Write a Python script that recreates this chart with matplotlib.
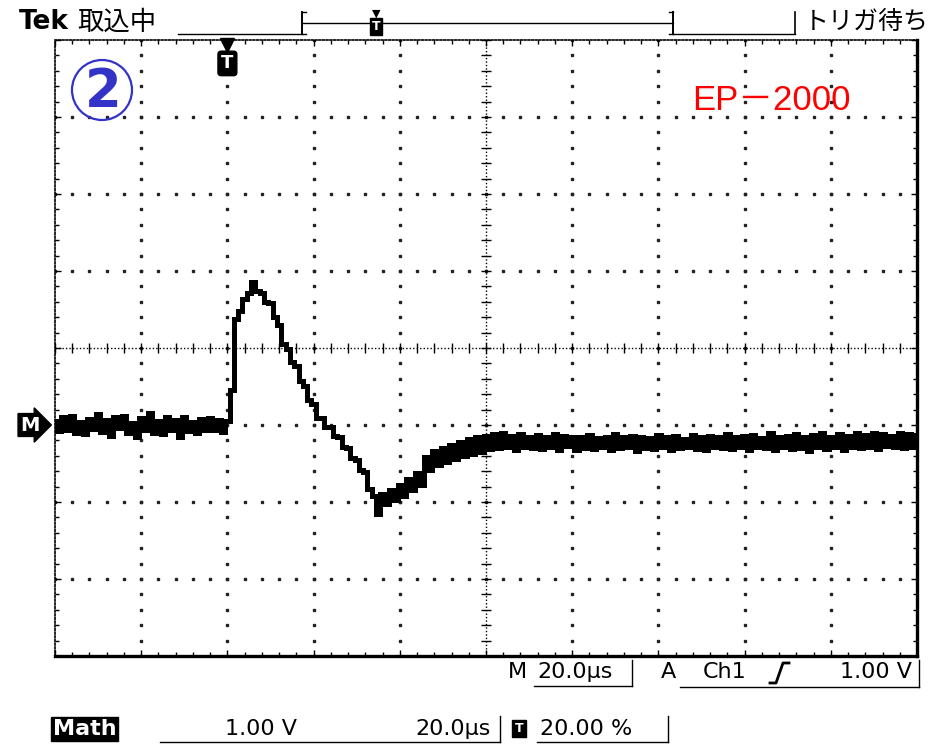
import matplotlib
matplotlib.use("Agg")
import matplotlib.pyplot as plt
import matplotlib.transforms as mtransforms
from matplotlib.lines import Line2D
from matplotlib.patches import Circle, Rectangle
import numpy as np

plt.rcParams['font.family'] = ['DejaVu Sans', 'Noto Sans CJK JP']

# scope settings
sec_per_div = 20.0      # us / div
volts_per_div = 1.00    # V / div
trigger_pct = 20.00     # trigger position in record, %
trigger_level = 1.00    # V
n_hdiv, n_vdiv = 10, 8
ground_div = 3          # ground marker, divisions above the bottom edge

# Ch1 samples, 1 us apart (V)
sample_step_us = 1.0
ch1_volts = [
    0.05, -0.08, 0.10, -0.06, 0.12, -0.10, 0.04, -0.12, 0.08, -0.05,
    0.14, -0.09, 0.06, -0.14, 0.10, -0.04, 0.12, -0.11, 0.03, -0.16,
    0.09, -0.07, 0.15, -0.10, 0.05, -0.12, 0.11, -0.06, 0.07, -0.15,
    0.10, -0.08, 0.04, -0.11, 0.08, -0.06, 0.09, -0.07, 0.06, -0.09,
    0.05, 0.45, 1.38, 1.48, 1.64, 1.72, 1.86, 1.74, 1.72, 1.60,
    1.58, 1.40, 1.30, 1.05, 0.99, 0.82, 0.76, 0.57, 0.51, 0.33,
    0.27, 0.09, 0.09, -0.03, -0.03, -0.14, -0.15, -0.28, -0.30, -0.43,
    -0.45, -0.59, -0.61, -0.83, -0.92, -1.15, -0.90, -1.02, -0.84, -0.98,
    -0.78, -0.92, -0.70, -0.84, -0.62, -0.78, -0.42, -0.58, -0.34, -0.52,
    -0.30, -0.48, -0.26, -0.44, -0.22, -0.40, -0.18, -0.38, -0.16, -0.35,
    -0.14, -0.31, -0.12, -0.30, -0.11, -0.29, -0.14, -0.32, -0.12, -0.28,
    -0.15, -0.30, -0.13, -0.31, -0.16, -0.29, -0.12, -0.33, -0.14, -0.27,
    -0.15, -0.32, -0.16, -0.30, -0.13, -0.31, -0.17, -0.29, -0.15, -0.33,
    -0.12, -0.30, -0.16, -0.28, -0.14, -0.34, -0.15, -0.30, -0.17, -0.31,
    -0.13, -0.29, -0.16, -0.32, -0.14, -0.30, -0.18, -0.28, -0.13, -0.31,
    -0.15, -0.33, -0.14, -0.29, -0.16, -0.30, -0.12, -0.31, -0.15, -0.28,
    -0.14, -0.32, -0.13, -0.29, -0.17, -0.30, -0.11, -0.33, -0.15, -0.28,
    -0.14, -0.31, -0.12, -0.30, -0.16, -0.34, -0.13, -0.29, -0.11, -0.31,
    -0.15, -0.28, -0.12, -0.32, -0.14, -0.29, -0.10, -0.30, -0.13, -0.28,
    -0.11, -0.31, -0.12, -0.27, -0.14, -0.29, -0.10, -0.30, -0.12, -0.28,
    -0.13,
]

W, H = 942, 744
def fx(x):
    return x / W
def fy(y):
    return 1 - y / H

fig = plt.figure(figsize=(W / 100, H / 100), dpi=100)
ax_l, ax_r, ax_t, ax_b = 55, 917, 40, 656
ax = fig.add_axes([fx(ax_l), fy(ax_b), fx(ax_r) - fx(ax_l), fy(ax_t) - fy(ax_b)])

t_max = n_hdiv * sec_per_div
v_min = -ground_div * volts_per_div
v_max = (n_vdiv - ground_div) * volts_per_div
ax.set_xlim(0, t_max)
ax.set_ylim(v_min, v_max)

# graticule
x_major = np.arange(0, t_max + 0.1, sec_per_div)
x_minor = np.arange(0, t_max + 0.1, sec_per_div / 5)
y_major = np.arange(v_min, v_max + 0.01, volts_per_div)
y_minor = np.arange(v_min, v_max + 0.01, volts_per_div / 5)
t_mid = t_max / 2
v_mid = (v_min + v_max) / 2

ax.set_xticks(x_major)
ax.set_xticks(x_minor, minor=True)
ax.set_yticks(y_major)
ax.set_yticks(y_minor, minor=True)
ax.tick_params(which='both', direction='in', top=True, right=True,
               labelbottom=False, labelleft=False, color='k', width=1)
ax.tick_params(which='major', length=4)
ax.tick_params(which='minor', length=3)

for side in ['left', 'top']:
    ax.spines[side].set_linestyle((0, (1, 1.2)))
    ax.spines[side].set_linewidth(1.2)
for side in ['right', 'bottom']:
    ax.spines[side].set_linewidth(2.4)

for v in y_major[1:-1]:
    if v != v_mid:
        ax.plot(x_minor, np.full_like(x_minor, v), ls='none', marker='s',
                ms=1.6, color='#222222', zorder=1)
for t in x_major[1:-1]:
    if t != t_mid:
        ax.plot(np.full_like(y_minor, t), y_minor, ls='none', marker='s',
                ms=1.6, color='#222222', zorder=1)

ax.axhline(v_mid, ls=(0, (1, 1.5)), lw=1, color='k', zorder=1)
ax.axvline(t_mid, ls=(0, (1, 1.5)), lw=1, color='k', zorder=1)
ax.plot(x_minor, np.full_like(x_minor, v_mid), ls='none', marker='|',
        ms=7, mew=1, color='k', zorder=1)
ax.plot(np.full_like(y_minor, t_mid), y_minor, ls='none', marker='_',
        ms=7, mew=1, color='k', zorder=1)

# waveform
t_us = np.arange(len(ch1_volts)) * sample_step_us
ax.plot(t_us, ch1_volts, drawstyle='steps-mid', color='k', lw=3.6,
        solid_joinstyle='miter', zorder=3)

# trigger position marker at top of graticule
t_trig = t_max * trigger_pct / 100
trans_xa = mtransforms.blended_transform_factory(ax.transData, ax.transAxes)
ax.plot([t_trig], [0.992], transform=trans_xa, marker='v', ms=10,
        color='k', clip_on=False, zorder=4)
ax.text(t_trig, 0.962, 'T', transform=trans_xa, ha='center', va='center',
        color='white', fontsize=13, fontweight='bold',
        bbox=dict(boxstyle='round,pad=0.18', fc='k', ec='k'))

# ground marker
trans_fy = mtransforms.blended_transform_factory(fig.transFigure, ax.transData)
fig.text(fx(20), 0.0, 'M', transform=trans_fy, ha='left', va='center',
         color='white', fontsize=14, fontweight='bold',
         bbox=dict(boxstyle='rarrow,pad=0.1', fc='k', ec='k'))

# circled number
fig.add_artist(Circle((102 / 100, (H - 90) / 100), 0.30,
                      transform=fig.dpi_scale_trans, fill=False,
                      ec='#3333c8', lw=1.6))
fig.text(fx(103), fy(92), '2', ha='center', va='center', color='#3333c8',
         fontsize=38, fontweight='bold')

fig.text(fx(692), fy(100), 'EP－2000', ha='left', va='center', color='#ff0000',
         fontsize=25, family=['Liberation Sans', 'Noto Sans CJK JP'])

# header
def hline(x0, x1, y, lw=1.0):
    fig.add_artist(Line2D([fx(x0), fx(x1)], [fy(y), fy(y)],
                          transform=fig.transFigure, color='k', lw=lw))
def vline(x, y0, y1, lw=1.0):
    fig.add_artist(Line2D([fx(x), fx(x)], [fy(y0), fy(y1)],
                          transform=fig.transFigure, color='k', lw=lw))

fig.text(fx(19), fy(22), 'Tek', ha='left', va='center', fontsize=19,
         fontweight='heavy')
fig.text(fx(77), fy(22), '取込中', ha='left', va='center', fontsize=19,
         family=['Noto Sans CJK JP'])
fig.text(fx(804), fy(22), 'トリガ待ち', ha='left', va='center', fontsize=18,
         family=['Noto Sans CJK JP'])

win_l, win_r = 302, 673
hline(178, win_l, 34)
vline(win_l, 12, 34, lw=1.4)
hline(win_l, win_l + 4, 12)
hline(win_l, win_l + 4, 34)
hline(win_l, win_r, 23)
vline(win_r, 12, 34, lw=1.4)
hline(win_r - 4, win_r, 12)
hline(win_r - 4, win_r, 34)
hline(win_r, 795, 34)
vline(795, 12, 34, lw=1.2)

x_rec_trig = win_l + (win_r - win_l) * trigger_pct / 100
fig.text(fx(x_rec_trig), fy(14), '▼', ha='center', va='center', fontsize=8,
         color='k')
fig.add_artist(Rectangle((fx(x_rec_trig - 6), fy(35)), fx(12), fy(18) - fy(35),
                         transform=fig.transFigure, fc='k', ec='k'))
fig.text(fx(x_rec_trig), fy(26), 'T', ha='center', va='center', fontsize=9,
         color='white', fontweight='bold')

# status line
fs = 16
fig.text(fx(508), fy(672), 'M', ha='left', va='center', fontsize=fs)
fig.text(fx(537), fy(672), f'{sec_per_div:.1f}µs', ha='left', va='center',
         fontsize=fs)
hline(534, 632, 686)
vline(632, 660, 686)
fig.text(fx(661), fy(672), 'A', ha='left', va='center', fontsize=fs)
fig.text(fx(703), fy(672), 'Ch1', ha='left', va='center', fontsize=fs)
fig.add_artist(Line2D([fx(770), fx(776), fx(783), fx(789)],
                      [fy(683), fy(683), fy(663), fy(663)],
                      transform=fig.transFigure, color='k', lw=2))
fig.text(fx(912), fy(672), f'{trigger_level:.2f} V', ha='right', va='center',
         fontsize=fs)
hline(680, 919, 687)
vline(919, 660, 687)

fig.text(fx(53), fy(729), 'Math', ha='left', va='center', fontsize=fs,
         color='white', fontweight='bold',
         bbox=dict(boxstyle='square,pad=0.08', fc='k', ec='k'))
fig.text(fx(225), fy(729), f'{volts_per_div:.2f} V', ha='left', va='center',
         fontsize=fs)
fig.text(fx(491), fy(729), f'{sec_per_div:.1f}µs', ha='right', va='center',
         fontsize=fs)
hline(160, 500, 742)
vline(500, 716, 742)
fig.add_artist(Rectangle((fx(512), fy(737)), fx(14), fy(720) - fy(737),
                         transform=fig.transFigure, fc='k', ec='k'))
fig.text(fx(519), fy(729), 'T', ha='center', va='center', fontsize=9,
         color='white', fontweight='bold')
fig.text(fx(540), fy(729), f'{trigger_pct:.2f} %', ha='left', va='center',
         fontsize=fs)
hline(537, 668, 742)
vline(668, 716, 742)

fig.savefig('out.png', dpi=100)
